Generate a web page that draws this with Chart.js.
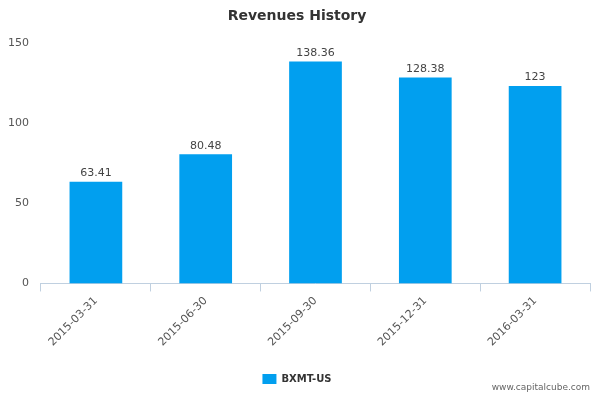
<!DOCTYPE html>
<html>
<head>
<meta charset="utf-8">
<script src="https://cdn.jsdelivr.net/npm/chart.js@4"></script>
<style>
  body { margin: 0; background: #fff; }
  #wrap { position: relative; width: 600px; height: 400px; }
  #mark { position: absolute; right: 10px; bottom: 8px; font: 9px "DejaVu Sans", sans-serif; color: #666; }
</style>
</head>
<body>
<div id="wrap">
  <canvas id="c" width="600" height="400"></canvas>
  <div id="mark">www.capitalcube.com</div>
</div>
<script>
const categories = ['2015-03-31', '2015-06-30', '2015-09-30', '2015-12-31', '2016-03-31'];
const revenues = [63.41, 80.48, 138.36, 128.38, 123];
const valueLabels = ['63.41', '80.48', '138.36', '128.38', '123'];
const yTicks = [0, 50, 100, 150];

// value text above each bar
const barLabels = {
  id: 'barLabels',
  afterDatasetsDraw(chart) {
    const ctx = chart.ctx;
    ctx.save();
    ctx.font = '11px "DejaVu Sans", sans-serif';
    ctx.fillStyle = '#444';
    ctx.textAlign = 'center';
    ctx.textBaseline = 'bottom';
    chart.getDatasetMeta(0).data.forEach((bar, i) => {
      ctx.fillText(valueLabels[i], bar.x, bar.y - 3);
    });
    ctx.restore();
  }
};

new Chart(document.getElementById('c'), {
  type: 'bar',
  data: {
    labels: categories,
    datasets: [{
      label: 'BXMT-US',
      data: revenues,
      backgroundColor: '#019fef',
      categoryPercentage: 0.48,
      barPercentage: 1
    }]
  },
  options: {
    responsive: false,
    animation: false,
    layout: { padding: { left: 4, right: 10, top: 0, bottom: 6 } },
    plugins: {
      title: {
        display: true,
        text: 'Revenues History',
        color: '#333',
        font: { family: 'DejaVu Sans', size: 14, weight: 'bold' },
        padding: { top: 8, bottom: 18 }
      },
      legend: {
        position: 'bottom',
        labels: {
          color: '#333',
          boxWidth: 14,
          boxHeight: 10,
          font: { family: 'DejaVu Sans', size: 10, weight: 'bold' },
          padding: 22
        }
      },
      tooltip: { enabled: false }
    },
    scales: {
      x: {
        grid: { display: true, drawOnChartArea: false, offset: true, color: '#c0d0e0', tickLength: 8 },
        border: { color: '#c0d0e0' },
        ticks: { color: '#555', font: { family: 'DejaVu Sans', size: 11 }, maxRotation: 45, minRotation: 45 }
      },
      y: {
        min: 0,
        max: 150,
        afterBuildTicks: axis => { axis.ticks = yTicks.map(v => ({ value: v })); },
        grid: { display: false },
        border: { display: false },
        ticks: { color: '#555', font: { family: 'DejaVu Sans', size: 11 }, padding: 4 }
      }
    }
  },
  plugins: [barLabels]
});
</script>
</body>
</html>
